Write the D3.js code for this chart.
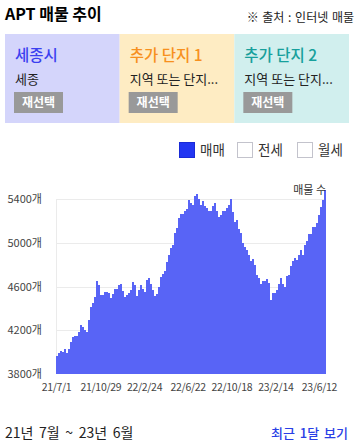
<!DOCTYPE html>
<html>
<head>
<meta charset="utf-8">
<script src="https://cdn.jsdelivr.net/npm/d3@7"></script>
<style>
  html, body { margin: 0; padding: 0; background: #fff; }
  svg { display: block; }
  text { font-family: "Noto Sans CJK KR", "Liberation Sans", sans-serif; }
</style>
</head>
<body>
<svg id="chart" width="358" height="447"></svg>
<script>
// ---- data ----
const startDate = "2021-07-01";
const endDate = "2023-07-01";
const values = [
  3960, 3990, 4008, 4000, 4027, 3990, 4030, 4091, 4135, 4146,
  4146, 4183, 4247, 4226, 4205, 4183, 4293, 4410, 4445, 4506,
  4655, 4610, 4525, 4525, 4550, 4550, 4540, 4494, 4530, 4580,
  4580, 4610, 4620, 4560, 4506, 4525, 4537, 4568, 4641, 4611,
  4513, 4568, 4611, 4580, 4550, 4660, 4675, 4623, 4570, 4510,
  4530, 4598, 4690, 4715, 4740, 4822, 4889, 4950, 4980, 5088,
  5140, 5225, 5262, 5265, 5290, 5311, 5393, 5369, 5348, 5430,
  5448, 5400, 5348, 5384, 5339, 5318, 5296, 5296, 5339, 5363,
  5296, 5240, 5256, 5296, 5296, 5318, 5348, 5400, 5280, 5195,
  5210, 5124, 5088, 5002, 4965, 4935, 4886, 4831, 4855, 4800,
  4703, 4678, 4623, 4650, 4650, 4666, 4629, 4476, 4537, 4537,
  4568, 4623, 4675, 4623, 4598, 4696, 4703, 4788, 4834, 4864,
  4843, 4886, 4935, 4890, 4978, 5017, 5082, 5082, 5143, 5143,
  5180, 5256, 5326, 5393, 5485
];
const yTicks = [3800, 4200, 4600, 5000, 5400];
const xTickDates = ["2021-07-01", "2021-10-29", "2022-02-24", "2022-06-22", "2022-10-18", "2023-02-14", "2023-06-12"];
const panelTitles = ["세종시", "추가 단지 1", "추가 단지 2"];
const panelSubtitles = ["세종", "지역 또는 단지...", "지역 또는 단지..."];
const legendLabels = ["매매", "전세", "월세"];
const legendChecked = [true, false, false];

// ---- layout ----
const svg = d3.select("#chart");
const parse = d3.timeParse("%Y-%m-%d");
const t0 = parse(startDate), t1 = parse(endDate);
const span = d3.timeDay.count(t0, t1);
const n = values.length;
const dates = d3.range(n + 1).map(i => d3.timeDay.offset(t0, Math.round(i * span / n)));

const x = d3.scaleTime().domain([t0, t1]).range([56, 326]);
const y = d3.scaleLinear().domain([3800, 5400]).range([373.7, 199.3]);

// header
svg.append("text").attr("x", 5).attr("y", 20)
  .attr("font-size", 16).attr("font-weight", "bold").attr("fill", "#000")
  .text("APT 매물 추이");
svg.append("text").attr("x", 354).attr("y", 21.5).attr("text-anchor", "end")
  .attr("font-size", 12).attr("fill", "#222").attr("word-spacing", 1)
  .text("※ 출처 : 인터넷 매물");

// panels
const panelColors = ["#d4d5fb", "#feecc3", "#d1efee"];
const titleColors = ["#3b3ff0", "#f7901e", "#17a09c"];
const panelX = d3.scaleBand().domain(d3.range(3)).range([5, 349]);
const panels = svg.selectAll("g.panel").data(panelTitles).join("g")
  .attr("class", "panel")
  .attr("transform", (d, i) => `translate(${panelX(i)},34)`);
panels.append("rect").attr("width", panelX.bandwidth()).attr("height", 89)
  .attr("fill", (d, i) => panelColors[i]);
panels.append("text").attr("x", 10).attr("y", 27)
  .attr("font-size", 15.5).attr("fill", (d, i) => titleColors[i])
  .attr("font-weight", 500)
  .text(d => d);
panels.append("text").attr("x", 10).attr("y", 50)
  .attr("font-size", 13).attr("fill", "#222")
  .text((d, i) => panelSubtitles[i]);
panels.append("rect").attr("x", 9).attr("y", 58).attr("width", 49).attr("height", 21)
  .attr("fill", "#999");
panels.append("text").attr("x", 33.5).attr("y", 73).attr("text-anchor", "middle")
  .attr("font-size", 12).attr("font-weight", "bold").attr("fill", "#fff")
  .text("재선택");

// legend
const legendX = [179.5, 237.5, 297.5];
const lg = svg.selectAll("g.leg").data(legendLabels).join("g")
  .attr("class", "leg")
  .attr("transform", (d, i) => `translate(${legendX[i]},142.5)`);
lg.append("rect").attr("width", 15).attr("height", 15)
  .attr("fill", (d, i) => legendChecked[i] ? "#2236f2" : "#fff")
  .attr("stroke", (d, i) => legendChecked[i] ? "#1a2bd6" : "#c3c3cc")
  .attr("stroke-width", 1);
lg.append("text").attr("x", 20.5).attr("y", 12.5)
  .attr("font-size", 13.5).attr("fill", "#333")
  .text(d => d);

// grid
const g = svg.append("g");
g.selectAll("line.grid").data(yTicks.filter(v => v > 3800)).join("line")
  .attr("x1", 56).attr("x2", 326)
  .attr("y1", d => Math.round(y(d)) + 0.5).attr("y2", d => Math.round(y(d)) + 0.5)
  .attr("stroke", "#ebebeb");
g.append("line").attr("x1", 56.5).attr("x2", 56.5)
  .attr("y1", y(5400)).attr("y2", y(3800))
  .attr("stroke", "#ebebeb");

// bars
g.selectAll("rect.bar").data(values).join("rect")
  .attr("class", "bar")
  .attr("x", (d, i) => x(dates[i]))
  .attr("width", (d, i) => x(dates[i + 1]) - x(dates[i]) + 0.3)
  .attr("y", d => y(d))
  .attr("height", d => y(3800) - y(d))
  .attr("fill", "#5864f6")
  .attr("shape-rendering", "crispEdges");

// y axis labels
const yAxis = d3.axisLeft(y).tickValues(yTicks).tickSize(0).tickPadding(0)
  .tickFormat(d => d + "개");
svg.append("g").attr("transform", "translate(42,0)").call(yAxis)
  .call(s => s.select(".domain").remove())
  .selectAll("text").attr("font-size", 11).attr("fill", "#444")
  .attr("font-family", "\"Liberation Sans\", \"Noto Sans CJK KR\", sans-serif");

// x axis labels
const fmt = d3.timeFormat("%y/%-m/%-d");
const xAxis = d3.axisBottom(x).tickValues(xTickDates.map(parse)).tickSize(0).tickPadding(0)
  .tickFormat(fmt);
svg.append("g").attr("transform", "translate(0,384)").call(xAxis)
  .call(s => s.select(".domain").remove())
  .selectAll("text").attr("font-size", 10.5).attr("fill", "#444")
  .attr("letter-spacing", -0.3)
  .attr("font-family", "\"Liberation Sans Narrow\", \"Liberation Sans\", sans-serif");

// series label
svg.append("text").attr("x", 326).attr("y", 194).attr("text-anchor", "end")
  .attr("font-size", 11).attr("fill", "#333")
  .text("매물 수");

// footer
svg.append("text").attr("x", 5).attr("y", 438)
  .attr("font-size", 14).attr("fill", "#222").attr("word-spacing", 2.5)
  .text("21년 7월 ~ 23년 6월");
svg.append("text").attr("x", 348).attr("y", 438).attr("text-anchor", "end")
  .attr("font-size", 13).attr("fill", "#2a3fe6").attr("font-weight", 500)
  .attr("word-spacing", 2)
  .text("최근 1달 보기");
</script>
</body>
</html>
